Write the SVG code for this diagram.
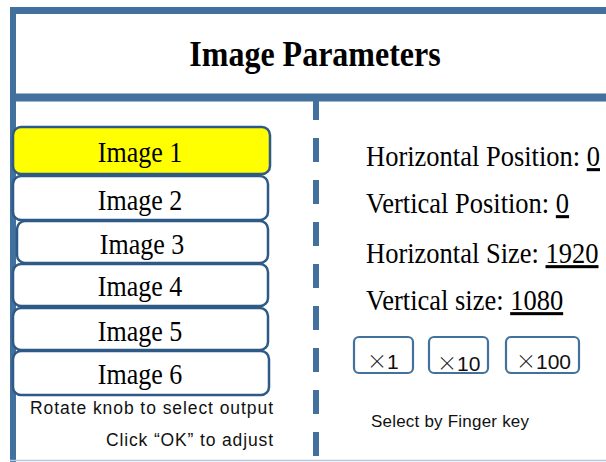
<svg xmlns="http://www.w3.org/2000/svg" width="606" height="462" viewBox="0 0 606 462">
<style>
.frame{fill:none;stroke:#41719C}
.btn{fill:#FFFFFF;stroke:#2E5A87;stroke-width:2.5}
.key{fill:#FFFFFF;stroke:#41719C;stroke-width:2.2}
.serif{font-family:"Liberation Serif","Times New Roman",serif;fill:#000}
.sans{font-family:"Liberation Sans",Arial,sans-serif;fill:#111}
.x{font-family:"Noto Sans CJK JP","DejaVu Sans",sans-serif;font-weight:300;font-size:20px}
.lbl{font-size:26px;text-anchor:middle}
.par{font-size:26.5px}
.u{text-decoration:underline}
</style>
<rect width="606" height="462" fill="#FFFFFF"/>
<g id="frame">
<line class="frame" x1="10" y1="10.5" x2="606" y2="10.5" stroke-width="7"/>
<line class="frame" x1="13" y1="7" x2="13" y2="462" stroke-width="6"/>
<line class="frame" x1="10" y1="97.5" x2="606" y2="97.5" stroke-width="8"/>
<line x1="10" y1="460.5" x2="606" y2="460.5" stroke="#B4C7DC" stroke-width="1.5"/>
</g>
<g id="title">
<text class="serif" transform="translate(315,66) scale(1,1.15)" font-size="32" font-weight="bold" text-anchor="middle">Image Parameters</text>
</g>
<g id="connectors">
<line class="frame" x1="316" y1="96" x2="316" y2="462" stroke-width="6" stroke-dasharray="24 18"/>
</g>
<g id="image1">
<rect class="btn" x="13" y="127" width="257" height="47" rx="8" style="fill:#FFFF00"/>
<text class="serif lbl" transform="translate(140,162) scale(1,1.15)">Image 1</text>
</g>
<g id="image2">
<rect class="btn" x="13" y="176" width="255" height="44" rx="8"/>
<text class="serif lbl" transform="translate(140,210) scale(1,1.15)">Image 2</text>
</g>
<g id="image3">
<rect class="btn" x="17" y="221" width="251" height="42" rx="8"/>
<text class="serif lbl" transform="translate(142,254) scale(1,1.15)">Image 3</text>
</g>
<g id="image4">
<rect class="btn" x="13" y="264" width="255" height="42" rx="8"/>
<text class="serif lbl" transform="translate(140,296) scale(1,1.15)">Image 4</text>
</g>
<g id="image5">
<rect class="btn" x="13" y="308" width="255" height="42" rx="8"/>
<text class="serif lbl" transform="translate(140,341) scale(1,1.15)">Image 5</text>
</g>
<g id="image6">
<rect class="btn" x="13" y="351" width="256" height="44" rx="8"/>
<text class="serif lbl" transform="translate(140,384) scale(1,1.15)">Image 6</text>
</g>
<g id="left-notes">
<text class="sans" x="30" y="414" font-size="17.5" textLength="243">Rotate knob to select output</text>
<text class="sans" x="106" y="446" font-size="17.5" textLength="167">Click “OK” to adjust</text>
</g>
<g id="params">
<text class="serif par" transform="translate(366,166) scale(1,1.15)">Horizontal Position: <tspan class="u">0</tspan></text>
<text class="serif par" transform="translate(366,213) scale(1,1.15)">Vertical Position: <tspan class="u">0</tspan></text>
<text class="serif par" transform="translate(366,263) scale(1,1.15)">Horizontal Size: <tspan class="u">1920</tspan></text>
<text class="serif par" transform="translate(366,310) scale(1,1.15)">Vertical size: <tspan class="u">1080</tspan></text>
</g>
<g id="key1">
<rect class="key" x="354" y="337" width="59" height="36" rx="5"/>
<text class="sans" x="367" y="369" font-size="21"><tspan class="x">×</tspan>1</text>
</g>
<g id="key10">
<rect class="key" x="429" y="337" width="59" height="36" rx="5"/>
<text class="sans" x="437" y="371" font-size="21"><tspan class="x">×</tspan>10</text>
</g>
<g id="key100">
<rect class="key" x="506" y="337" width="73" height="36" rx="5"/>
<text class="sans" x="516" y="369" font-size="21"><tspan class="x">×</tspan>100</text>
</g>
<g id="right-note">
<text class="sans" x="371" y="427" font-size="17" textLength="158">Select by Finger key</text>
</g>
</svg>
